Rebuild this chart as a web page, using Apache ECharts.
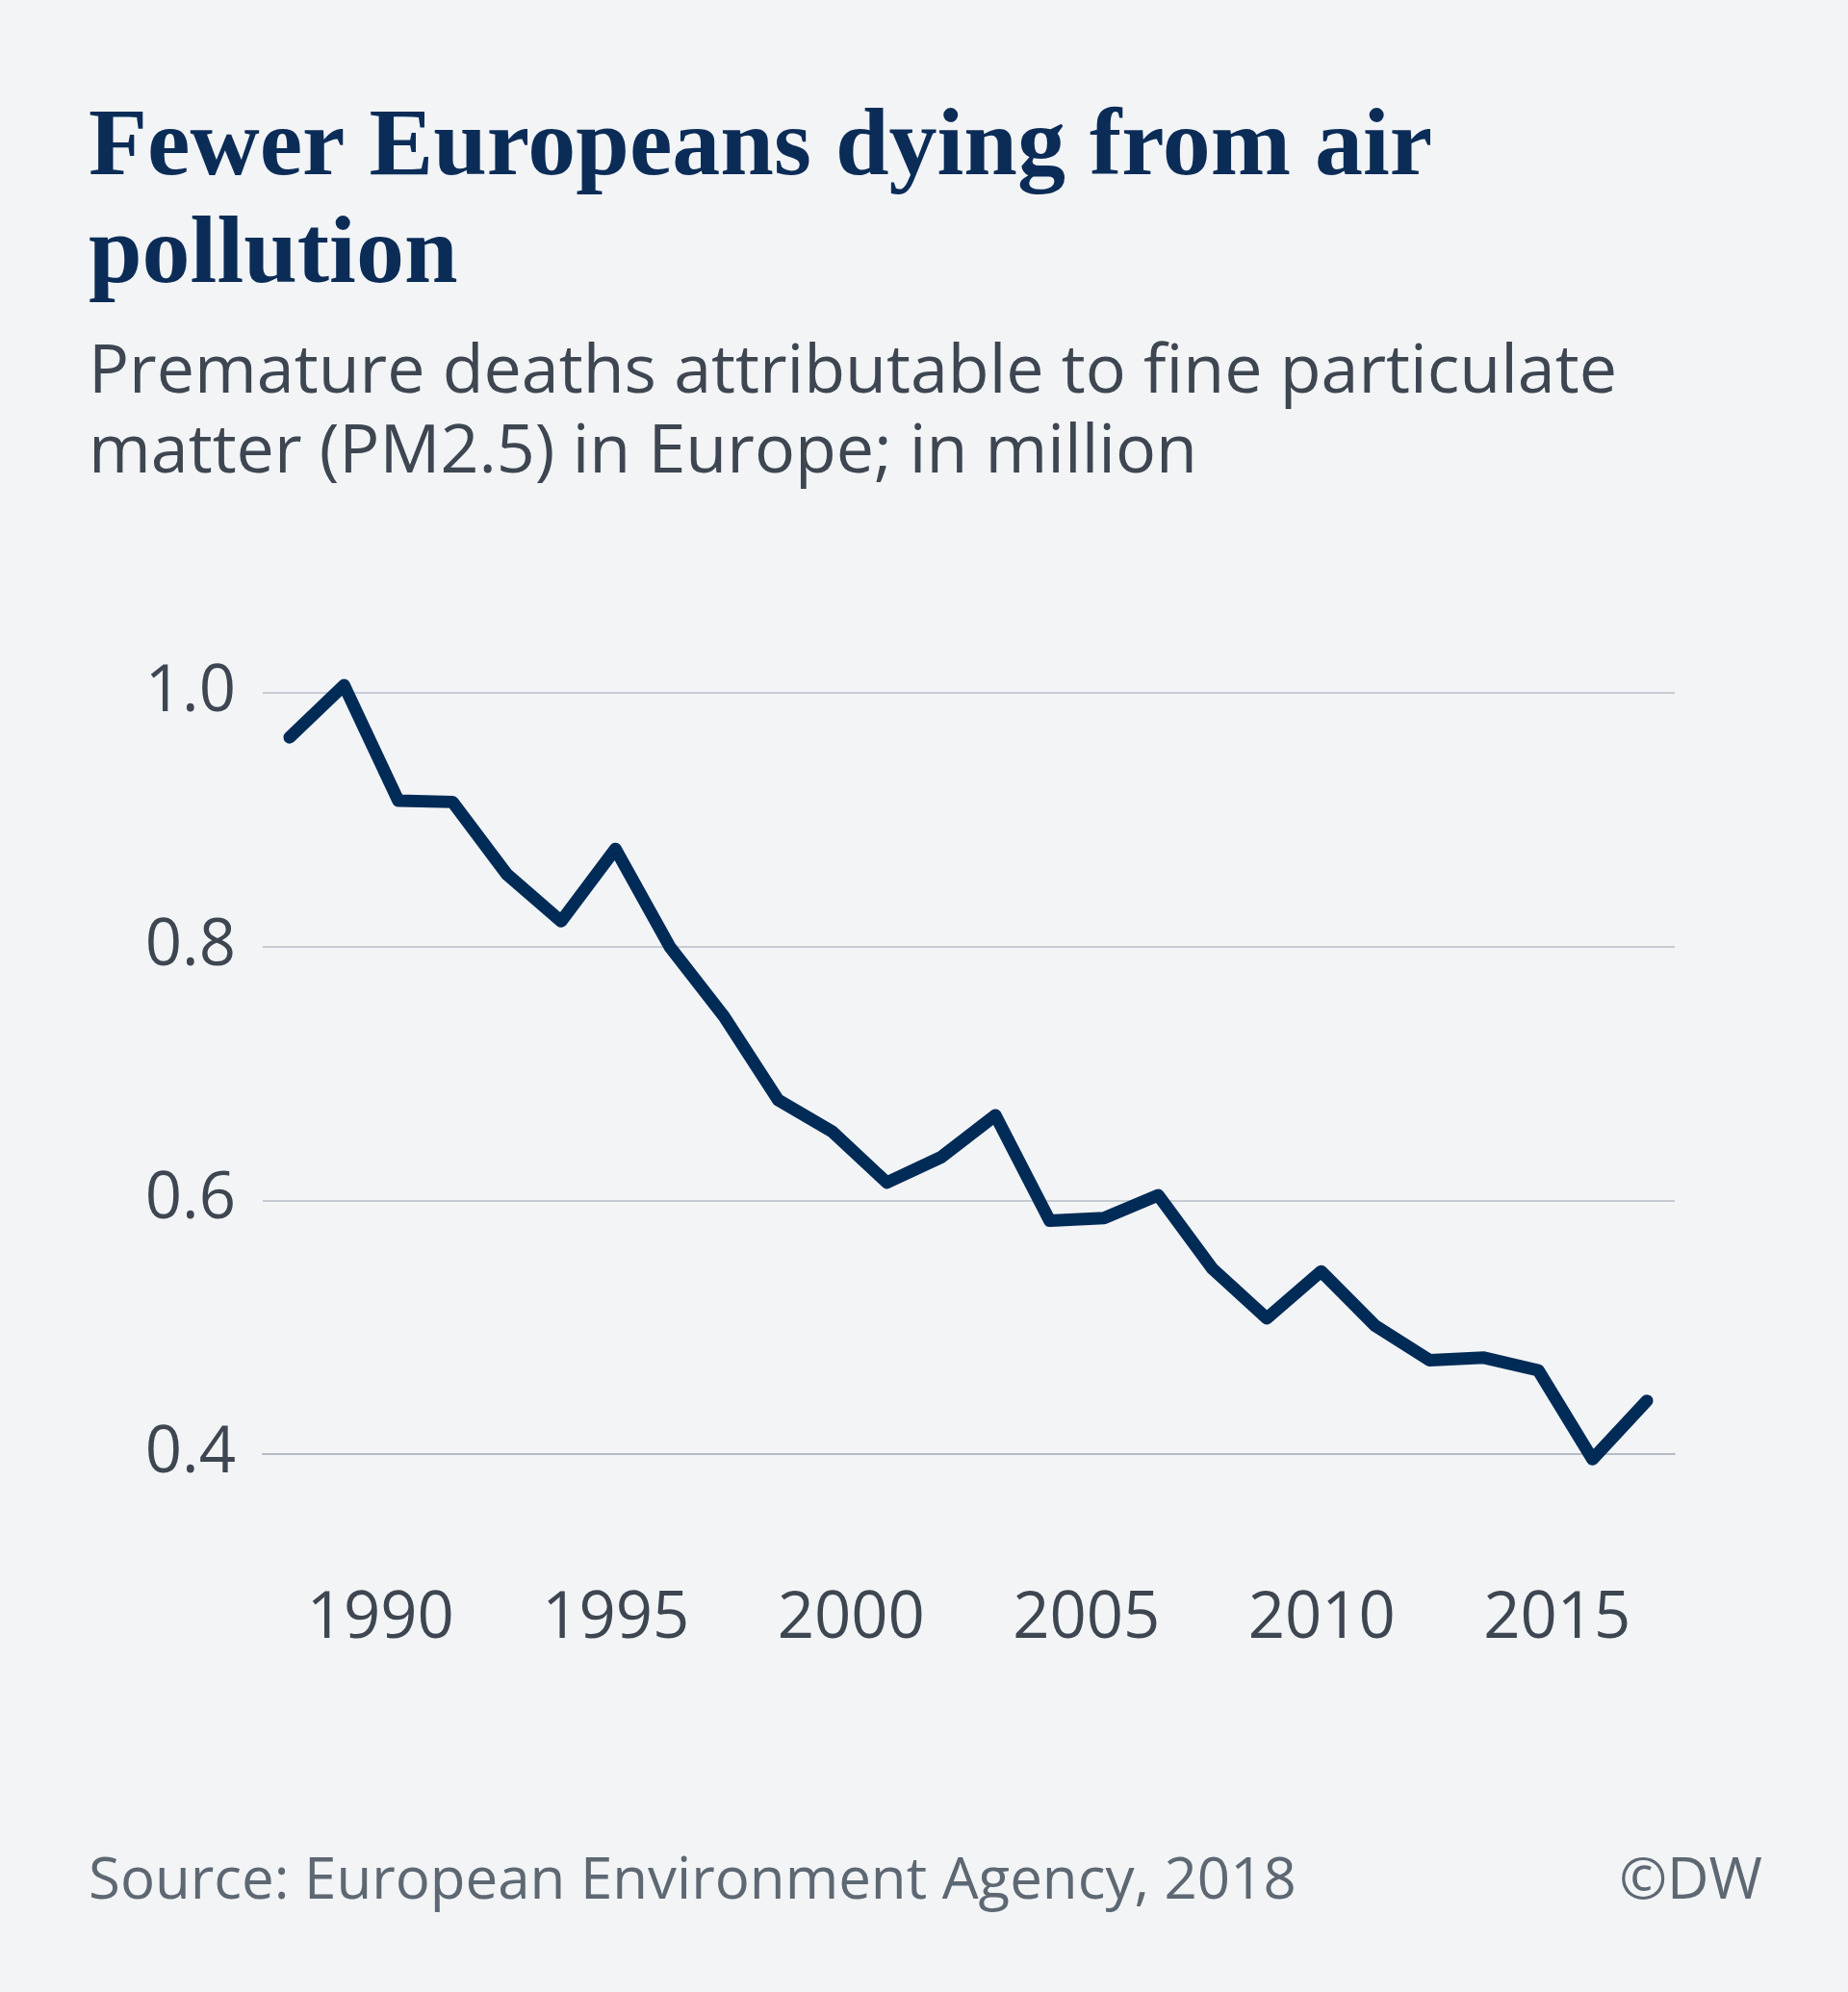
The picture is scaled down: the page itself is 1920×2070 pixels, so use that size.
<!DOCTYPE html>
<html>
<head>
<meta charset="utf-8">
<script src="https://cdn.jsdelivr.net/npm/echarts@6/dist/echarts.min.js"></script>
<style>
  html, body { margin: 0; padding: 0; background: #f2f4f6; }
  #chart { width: 1920px; height: 2070px; }
</style>
</head>
<body>
<div id="chart"></div>
<script>
// data (million premature deaths)
const years = ['1990', '1991', '1992', '1993', '1994', '1995', '1996', '1997', '1998', '1999',
    '2000', '2001', '2002', '2003', '2004', '2005', '2006', '2007', '2008', '2009',
    '2010', '2011', '2012', '2013', '2014', '2015'];
const deaths = [0.965, 1.006, 0.915, 0.914, 0.857, 0.820, 0.877, 0.800, 0.745, 0.679,
    0.654, 0.614, 0.634, 0.667, 0.584, 0.586, 0.604, 0.546, 0.507, 0.544,
    0.501, 0.474, 0.476, 0.466, 0.396, 0.442];
const tickYears = [1990, 1995, 2000, 2005, 2010, 2015];
const yTicks = [0.4, 0.6, 0.8, 1.0];

const chart = echarts.init(document.getElementById('chart'));

const sansFont = '"Open Sans", "Noto Sans", sans-serif';
const labelColor = '#3d4651';

const option = {
    backgroundColor: '#f2f4f6',
    animation: false,
    title: [
        {
            text: 'Fewer Europeans dying from air\npollution',
            left: 92,
            top: 99,
            padding: 0,
            textStyle: {
                fontFamily: '"Liberation Serif", serif',
                fontWeight: 'bold',
                fontSize: 100,
                lineHeight: 112,
                color: '#0b2c57'
            }
        },
        {
            text: 'Premature deaths attributable to fine particulate\nmatter (PM2.5) in Europe; in million',
            left: 92,
            top: 347,
            padding: 0,
            textStyle: {
                fontFamily: sansFont,
                fontWeight: 'normal',
                fontSize: 70,
                lineHeight: 83,
                color: labelColor
            }
        },
        {
            text: 'Source: European Environment Agency, 2018',
            left: 92,
            top: 1926,
            padding: 0,
            textStyle: {
                fontFamily: sansFont,
                fontWeight: 'normal',
                fontSize: 60,
                lineHeight: 60,
                color: '#5d6873'
            }
        },
        {
            text: '©DW',
            right: 89,
            top: 1926,
            padding: 0,
            textStyle: {
                fontFamily: sansFont,
                fontWeight: 'normal',
                fontSize: 60,
                lineHeight: 60,
                color: '#5d6873'
            }
        }
    ],
    grid: [
        // grid for the line itself
        { left: 301, right: 209, top: 720, bottom: 559 },
        // grid for ticks and gridlines
        { left: 273, right: 180, top: 720, bottom: 559 }
    ],
    xAxis: [
        {
            type: 'category',
            gridIndex: 0,
            data: years,
            boundaryGap: false,
            show: false
        },
        {
            type: 'value',
            gridIndex: 1,
            min: 1987.5,
            max: 2017.5,
            interval: 2.5,
            axisLine: { show: true, lineStyle: { color: '#b3bbc5', width: 2 } },
            axisTick: { show: false },
            splitLine: { show: false },
            axisLabel: {
                margin: 172,
                verticalAlign: 'middle',
                fontFamily: sansFont,
                fontSize: 67,
                lineHeight: 67,
                color: labelColor,
                formatter: function(value) {
                    return tickYears.indexOf(value) >= 0 ? String(value) : '';
                }
            }
        }
    ],
    yAxis: [
        {
            type: 'value',
            gridIndex: 0,
            min: 0.4,
            max: 1.0,
            show: false
        },
        {
            type: 'value',
            gridIndex: 1,
            min: yTicks[0],
            max: yTicks[yTicks.length - 1],
            interval: 0.2,
            axisLine: { show: false },
            axisTick: { show: false },
            splitLine: { lineStyle: { color: '#c6cbd3', width: 2 } },
            axisLabel: {
                margin: 28,
                fontFamily: sansFont,
                fontSize: 67,
                color: labelColor,
                formatter: function(value) {
                    return value.toFixed(1);
                }
            }
        }
    ],
    series: [
        {
            name: 'Premature deaths',
            type: 'line',
            xAxisIndex: 0,
            yAxisIndex: 0,
            data: deaths,
            clip: false,
            symbol: 'none',
            lineStyle: {
                color: '#002b57',
                width: 13,
                cap: 'round',
                join: 'round'
            }
        }
    ]
};

chart.setOption(option);

window.addEventListener('resize', function() {
    chart.resize();
});
</script>
</body>
</html>
